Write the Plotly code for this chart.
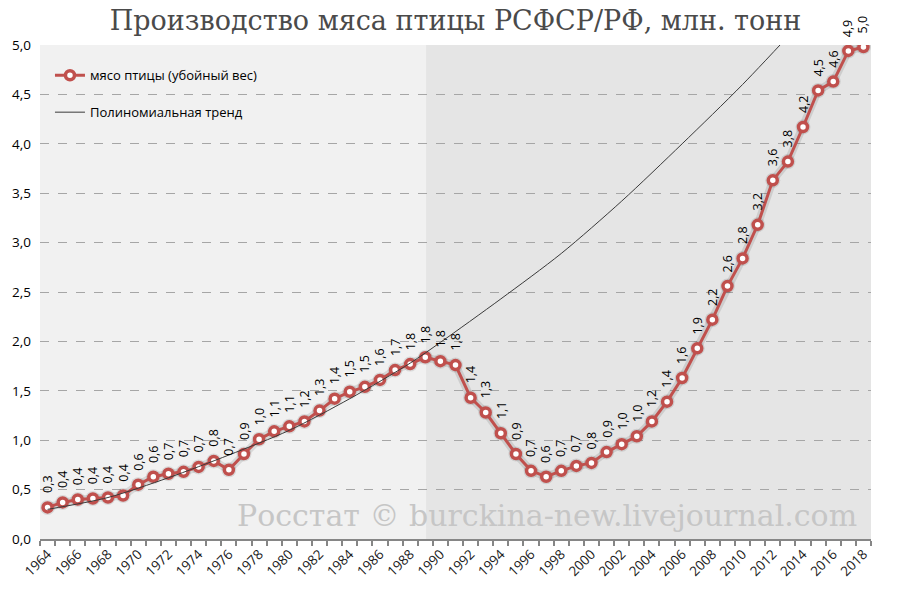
import plotly.graph_objects as go

# ---- data ----
years = list(range(1964, 2019))
values = [0.32, 0.37, 0.40, 0.41, 0.42, 0.44, 0.55, 0.63, 0.66, 0.68, 0.73, 0.79, 0.70, 0.86, 1.01,
          1.09, 1.14, 1.19, 1.30, 1.42, 1.49, 1.54, 1.61, 1.71, 1.77, 1.84, 1.80, 1.76,
          1.43, 1.28, 1.07, 0.86, 0.69, 0.63, 0.69, 0.74, 0.77, 0.88, 0.96, 1.04, 1.19,
          1.39, 1.63, 1.93, 2.22, 2.56, 2.84, 3.18, 3.63, 3.82, 4.17, 4.54, 4.63, 4.94, 4.98]
labels = [f"{v:.1f}".replace(".", ",") for v in values]

trend_years = [1964, 1968, 1972, 1976, 1980, 1984, 1988, 1990, 1994, 1998, 2002, 2006, 2010, 2014]
trend_vals = [0.30, 0.42, 0.62, 0.85, 1.10, 1.42, 1.78, 1.99, 2.43, 2.89, 3.42, 4.00, 4.60, 5.25]

tick_years = years[::2]
tick_text = [str(y) for y in tick_years]

series_name = "мясо птицы (убойный вес)"
trend_name = "Полиномиальная тренд"
title_text = "Производство мяса птицы РСФСР/РФ, млн. тонн"
watermark = "Росстат © burckina-new.livejournal.com"

RED = "#c0504d"
FONT = "Open Sans"

fig = go.Figure()

# soft shadow under the series
fig.add_trace(go.Scatter(
    x=years, y=values, mode="lines+markers",
    line=dict(color="rgba(0,0,0,0.10)", width=8),
    marker=dict(size=15, color="rgba(0,0,0,0.10)"),
    showlegend=False, hoverinfo="skip"))

fig.add_trace(go.Scatter(
    x=years, y=values, mode="lines+markers", name=series_name,
    legendgroup="a",
    line=dict(color=RED, width=3),
    marker=dict(size=9, color="white", line=dict(color=RED, width=3.5))))

fig.add_trace(go.Scatter(
    x=trend_years, y=trend_vals, mode="lines", name=trend_name,
    legendgroup="b",
    line=dict(color="#3a3a3a", width=1, shape="spline", smoothing=0.8)))

# data labels (rotated)
for x, y, t in zip(years, values, labels):
    fig.add_annotation(x=x, y=y, text=t, textangle=-90, showarrow=False,
                       xanchor="center", yanchor="bottom", yshift=12,
                       font=dict(family=FONT, size=12.5, color="#000000"))

# background shading
fig.add_shape(type="rect", xref="x", yref="paper", x0=1963.5, x1=1989.05, y0=0, y1=1,
              fillcolor="#f1f1f1", line=dict(width=0), layer="below")
fig.add_shape(type="rect", xref="x", yref="paper", x0=1989.05, x1=2018.5, y0=0, y1=1,
              fillcolor="#e5e5e5", line=dict(width=0), layer="below")

# watermark
fig.add_annotation(xref="paper", yref="paper", x=0.986, y=0.048, xanchor="right", yanchor="middle",
                   text=watermark, showarrow=False,
                   font=dict(family="DejaVu Serif", size=30, color="#c6c6c6"))

fig.update_layout(
    width=900, height=592,
    margin=dict(l=40, r=29, t=45, b=51),
    paper_bgcolor="white", plot_bgcolor="white",
    separators=", ",
    title=dict(text=title_text, x=0.5, xref="paper", xanchor="center",
               y=1 - 21 / 592, yref="container", yanchor="middle",
               font=dict(family="DejaVu Serif", size=27, color="#4a4a4a")),
    legend=dict(x=0.012, y=0.969, xanchor="left", yanchor="top",
                bgcolor="rgba(0,0,0,0)", tracegroupgap=17,
                font=dict(family=FONT, size=13, color="#000000")),
    showlegend=True,
)

fig.update_xaxes(range=[1963.5, 2018.5], tickvals=tick_years, ticktext=tick_text,
                 tickangle=-45, ticks="", showgrid=False, zeroline=False,
                 showline=True, linecolor="#868686", linewidth=2,
                 tickfont=dict(family=FONT, size=13.5, color="#1a1a1a"),
                 minor=dict(ticks="outside", tick0=1963.5, dtick=1, ticklen=5,
                            tickcolor="#868686", tickwidth=2, showgrid=False))

fig.update_yaxes(range=[0, 5], dtick=0.5, tickformat=".1f", showline=False,
                 zeroline=False, showgrid=True, gridcolor="#a6a6a6", griddash="dash",
                 gridwidth=1, ticks="", ticklabelstandoff=8,
                 tickfont=dict(family=FONT, size=13.5, color="#000000"))

fig.write_html("out.html")
